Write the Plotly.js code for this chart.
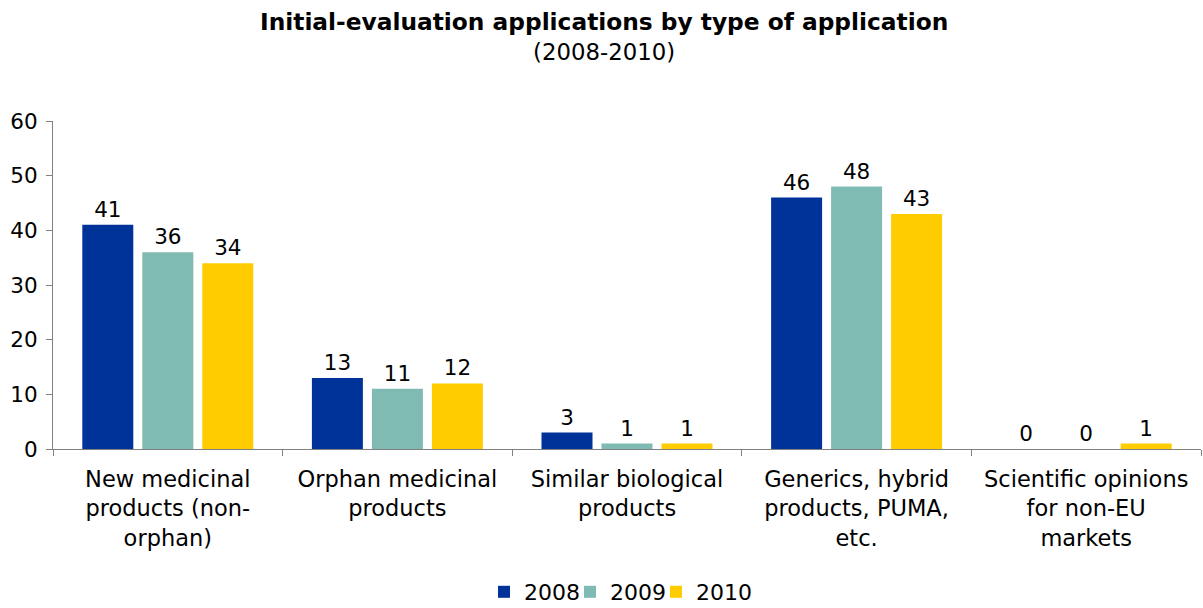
<!DOCTYPE html>
<html>
<head>
<meta charset="utf-8">
<script src="https://cdn.plot.ly/plotly-3.0.1.min.js"></script>
<style>html,body{margin:0;padding:0;background:#fff}#chart{width:1203px;height:608px}</style>
</head>
<body>
<div id="chart"></div>
<script>
const categories = [
  "New medicinal<br>products (non-<br>orphan)",
  "Orphan medicinal<br>products",
  "Similar biological<br>products",
  "Generics, hybrid<br>products, PUMA,<br>etc.",
  "Scientific opinions<br>for non-EU<br>markets"
];
const years = ["2008", "2009", "2010"];
const values2008 = [41, 13, 3, 46, 0];
const values2009 = [36, 11, 1, 48, 0];
const values2010 = [34, 12, 1, 43, 1];
const colors = ["#003399", "#7FBBB2", "#FFCC00"];
const titleText = "Initial-evaluation applications by type of application";
const subtitleText = "(2008-2010)";

const font = "DejaVu Sans, Verdana, sans-serif";
const fs = 21.5;
const legendIds = ["legend", "legend2", "legend3"];
const legendX = [484, 570, 656];
const series = [values2008, values2009, values2010];
const data = series.map((vals, i) => ({
  type: "bar",
  name: years[i],
  legend: legendIds[i],
  x: categories,
  y: vals,
  marker: {color: colors[i]},
  text: vals.map(String),
  textposition: "outside",
  textfont: {family: font, size: fs, color: "#000"},
  cliponaxis: false,
  hoverinfo: "none"
}));

const layout = {
  width: 1203, height: 608,
  margin: {l: 53, r: 2, t: 121, b: 159, autoexpand: false},
  paper_bgcolor: "#fff", plot_bgcolor: "#fff",
  barmode: "group",
  bargap: 0.216,
  bargroupgap: 0.15,
  annotations: [
    {text: "<b>" + titleText + "</b>", xref: "paper", yref: "paper", x: 0.48, y: 1.302,
     xanchor: "center", yanchor: "middle", showarrow: false,
     font: {family: font, size: 23.3, color: "#000"}},
    {text: subtitleText, xref: "paper", yref: "paper", x: 0.48, y: 1.21,
     xanchor: "center", yanchor: "middle", showarrow: false,
     font: {family: font, size: 22.8, color: "#000"}}
  ],
  xaxis: {
    type: "category",
    showline: true, linecolor: "#808080", linewidth: 1,
    ticks: "outside", tickson: "boundaries", ticklen: 6, tickcolor: "#808080",
    ticklabelstandoff: 10,
    tickfont: {family: font, size: 22.5, color: "#000"},
    showgrid: false, zeroline: false, fixedrange: true
  },
  yaxis: {
    range: [0, 60], dtick: 10,
    showline: true, linecolor: "#808080", linewidth: 1,
    ticks: "outside", ticklen: 6, tickcolor: "#808080",
    ticklabelstandoff: 4,
    tickfont: {family: font, size: fs, color: "#000"},
    showgrid: false, zeroline: false, fixedrange: true
  },
  showlegend: true
};
legendIds.forEach((id, i) => {
  layout[id] = {
    xref: "container", yref: "container",
    x: legendX[i] / 1203, xanchor: "left",
    y: 1 - 592 / 608, yanchor: "middle",
    orientation: "h",
    font: {family: font, size: 22, color: "#000"},
    itemwidth: 30, bgcolor: "rgba(0,0,0,0)"
  };
});

Plotly.newPlot("chart", data, layout, {displayModeBar: false, staticPlot: true});
</script>
</body>
</html>
